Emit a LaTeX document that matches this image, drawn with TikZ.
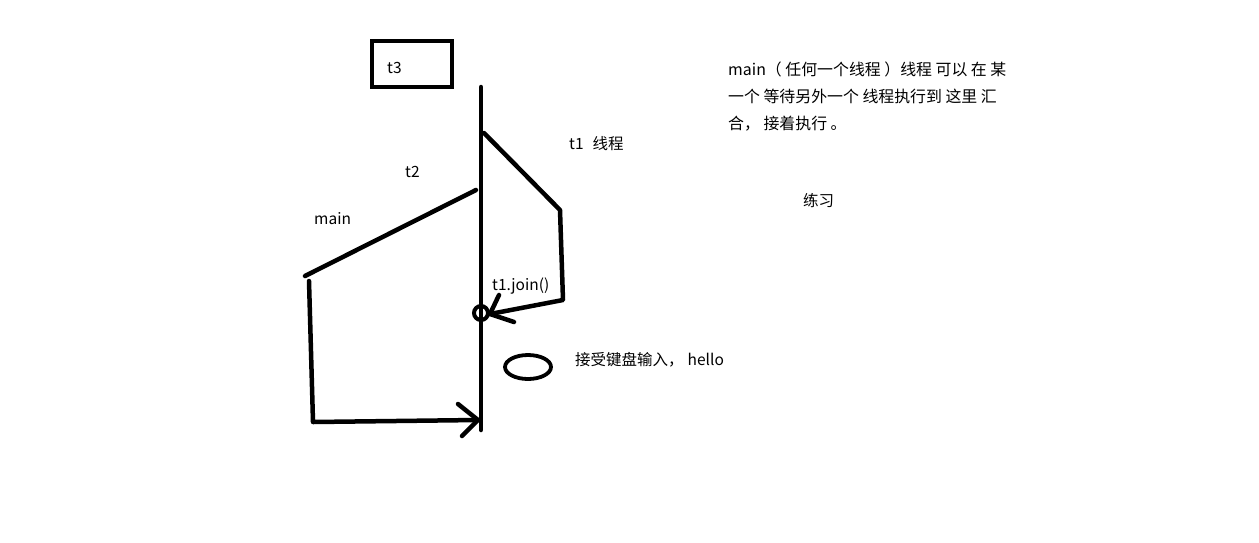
\documentclass[tikz,border=0pt]{standalone}
\usepackage{fontspec}
\setmainfont{Noto Sans CJK SC}
\begin{document}
\begin{tikzpicture}[x=1pt,y=-1pt,
  pen/.style={line width=4.5pt,line cap=round,line join=round},
  lbl/.style={inner sep=0pt,font=\fontsize{15.5}{18}\selectfont,anchor=west}]
\useasboundingbox (0,0) rectangle (1259,542);
% t3 box
\draw[pen,line cap=butt,line join=miter] (372,41) rectangle (452,87);
\node[lbl] (t3) at (387,68) {t3};
% main vertical line
\coordinate (top) at (481,87);
\coordinate (bot) at (481,430);
\draw[pen] (top) -- (bot);
% t1 path
\coordinate (t1a) at (484,133);
\coordinate (t1b) at (560,210);
\coordinate (t1c) at (563,300);
\coordinate (tip1) at (490,314);
\draw[pen] (t1a) -- (t1b) -- (t1c) -- (tip1);
\coordinate (h1a) at (499,295);
\coordinate (h1b) at (514,322);
\draw[pen] (h1a) -- (tip1) -- (h1b);
% join circle
\node[draw,line width=4pt,circle,minimum size=14pt,inner sep=0pt] (jc) at (481,313) {};
% main path
\coordinate (m1) at (305,276);
\coordinate (m2) at (476,190);
\draw[pen] (m1) -- (m2);
\coordinate (m3) at (309,281);
\coordinate (m4) at (313,422);
\coordinate (tip2) at (478,420);
\draw[pen] (m3) -- (m4) -- (tip2);
\coordinate (h2a) at (458,404);
\coordinate (h2b) at (462,436);
\draw[pen] (h2a) -- (tip2) -- (h2b);
% ellipse
\draw[line width=3.8pt] (528,367) ellipse (23 and 12);
% labels
\node[lbl] (lt1) at (569,144) {t1\hspace{9pt}线程};
\node[lbl] (lt2) at (405,172) {t2};
\node[lbl] (lmain) at (314,219) {main};
\node[lbl] (ljoin) at (492,286) {t1.join()};
\node[lbl] (lin) at (575,360) {接受键盘输入，\hspace{4pt}hello};
\node[lbl,align=left,anchor=north west,font=\fontsize{15.9}{27}\selectfont] (note) at (728,62)
  {main（ 任何一个线程 ）线程 可以 在 某\\一个 等待另外一个 线程执行到 这里 汇\\合， 接着执行 。};
\node[lbl] (lx) at (803,201) {练习};
\end{tikzpicture}
\end{document}
